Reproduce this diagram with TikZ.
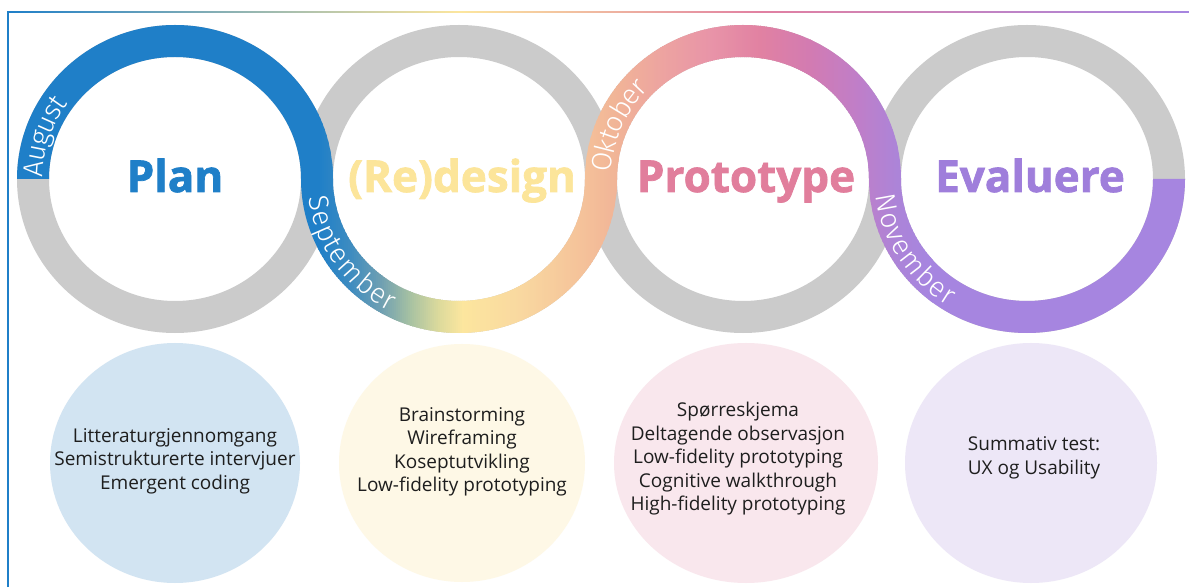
\documentclass[tikz,border=0pt]{standalone}
\usepackage{fontspec}
\setmainfont{Open Sans}
\newfontfamily\titlefont{Open Sans}[BoldFeatures={FakeBold=1.6}]
\newfontfamily\monthfont{Fira Sans Light}
\usetikzlibrary{decorations.text}

\definecolor{planblue}{HTML}{1F7FC8}
\definecolor{ringgray}{HTML}{CBCBCB}
\definecolor{designyellow}{HTML}{FCE59A}
\definecolor{protopink}{HTML}{E17E9C}
\definecolor{evalpurple}{HTML}{9F7EDB}
\definecolor{bandpurple}{HTML}{A685E0}
\definecolor{planfill}{HTML}{D2E4F2}
\definecolor{designfill}{HTML}{FEF8E6}
\definecolor{protofill}{HTML}{F9E7ED}
\definecolor{evalfill}{HTML}{EDE7F7}
\definecolor{bodytext}{HTML}{1E1E1E}
% gradient stops along the band
\definecolor{gA}{HTML}{1F7FC8}
\definecolor{gB}{HTML}{3E8CC0}
\definecolor{gC}{HTML}{6E9FB2}
\definecolor{gD}{HTML}{A8C2A2}
\definecolor{gE}{HTML}{DCDA9C}
\definecolor{gF}{HTML}{FCE69E}
\definecolor{gG}{HTML}{F9D8A0}
\definecolor{gH}{HTML}{F5C49A}
\definecolor{gI}{HTML}{F1B497}
\definecolor{gJ}{HTML}{EDA4A0}
\definecolor{gK}{HTML}{E894A8}
\definecolor{gL}{HTML}{E181A2}
\definecolor{gM}{HTML}{D27BB2}
\definecolor{gN}{HTML}{C07EC8}
\definecolor{gO}{HTML}{AC84D8}
\definecolor{gP}{HTML}{A685E0}

\newcommand\monthfmt{\color{white}\monthfont\fontsize{28}{28}\selectfont}

\tikzset{
  ring/.style={draw=ringgray, line width=32},
  phase/.style={font=\titlefont\fontsize{44}{44}\selectfont\bfseries, anchor=base, inner sep=0},
  activity/.style={font=\fontsize{19}{23.5}\selectfont, text=bodytext, align=center, inner sep=0},
  month/.style={decorate, decoration={text along path, text align=left, raise=-10pt, text={|\monthfmt|#1}}}
}

\begin{document}
\begin{tikzpicture}[x=1pt,y=1pt]
\useasboundingbox (0,0) rectangle (1189,587);
\fill[white] (0,0) rectangle (1189,587);

% frame: gradient rule on top, blue rule on the left
\shade[left color=gA, right color=gF] (8,574.2) rectangle (460,575.8);
\shade[left color=gF, right color=gL] (460,574.2) rectangle (760,575.8);
\shade[left color=gL, right color=gP] (760,574.2) rectangle (1189,575.8);
\draw[gA, line width=1.8] (8,0) -- (8,575.8);

% ring centres
\coordinate (c1) at (175,408);
\coordinate (c2) at (459,408);
\coordinate (c3) at (743,408);
\coordinate (c4) at (1027,408);

% grey rings
\foreach \c in {c1,c2,c3,c4}
  \draw[ring] (\c) ellipse [x radius=142, y radius=138];

% coloured S-band: upper halves of rings 1 and 3, lower halves of rings 2 and 4
\begin{scope}
\clip (c1) ++(-158,0) arc[start angle=180, end angle=0, x radius=158, y radius=154]
        -- ++(-32,0) arc[start angle=0, end angle=180, x radius=126, y radius=122] -- cycle
      (c2) ++(-158,0) arc[start angle=180, end angle=360, x radius=158, y radius=154]
        -- ++(-32,0) arc[start angle=360, end angle=180, x radius=126, y radius=122] -- cycle
      (c3) ++(-158,0) arc[start angle=180, end angle=0, x radius=158, y radius=154]
        -- ++(-32,0) arc[start angle=0, end angle=180, x radius=126, y radius=122] -- cycle
      (c4) ++(-158,0) arc[start angle=180, end angle=360, x radius=158, y radius=154]
        -- ++(-32,0) arc[start angle=360, end angle=180, x radius=126, y radius=122] -- cycle;
\fill[gA] (0,200) rectangle (319,600);
\fill[gP] (929,200) rectangle (1189,600);
\foreach \xa/\xb/\ca/\cb in {318/350/gA/gB, 350/380/gB/gC, 380/410/gC/gD, 410/438/gD/gE,
    438/462/gE/gF, 462/520/gF/gG, 520/576/gG/gH, 576/616/gH/gI, 616/660/gI/gJ,
    660/710/gJ/gK, 710/760/gK/gL, 760/810/gL/gM, 810/856/gM/gN, 856/896/gN/gO, 896/930/gO/gP}{
  \pgfmathtruncatemacro\n{(\xb-\xa)/2}
  \foreach \i in {0,...,\n}{
    \pgfmathsetmacro\xx{\xa+2*\i}
    \pgfmathtruncatemacro\p{100-100*\i/\n}
    \fill[\ca!\p!\cb] (\xx,200) rectangle ++(2.6,400);
  }
}
\end{scope}

% month labels along the band
\path[month=August] (c1) ++(179:142 and 138)
  arc[start angle=179, end angle=90, x radius=142, y radius=138];
\path[month=September] (c2) ++(187:142 and 138)
  arc[start angle=187, end angle=280, x radius=142, y radius=138];
\path[month=Oktober] (c3) ++(177:142 and 138)
  arc[start angle=177, end angle=90, x radius=142, y radius=138];
\path[month=November] (c4) ++(186:142 and 138)
  arc[start angle=186, end angle=280, x radius=142, y radius=138];

% phase titles
\node[phase, text=planblue]     (plan)   at (175,395) {Plan};
\node[phase, text=designyellow] (design) at (462,395) {(Re)design};
\node[phase, text=protopink]    (proto)  at (746,395) {Prototype};
\node[phase, text=evalpurple]   (eval)   at (1030,395) {Evaluere};

% activity bubbles
\fill[planfill]   (175,124) ellipse [x radius=125, y radius=120];
\fill[designfill] (462,124) ellipse [x radius=123, y radius=119];
\fill[protofill]  (746,124) ellipse [x radius=132, y radius=120];
\fill[evalfill]   (1031,124) ellipse [x radius=126, y radius=120];

\node[activity] (planact) at (175,126)
  {Litteraturgjennomgang\\Semistrukturerte intervjuer\\Emergent coding};
\node[activity] (designact) at (462,135)
  {Brainstorming\\Wireframing\\Koseptutvikling\\Low-fidelity prototyping};
\node[activity] (protoact) at (738,128)
  {Spørreskjema\\Deltagende observasjon\\Low-fidelity prototyping\\Cognitive walkthrough\\High-fidelity prototyping};
\node[activity] (evalact) at (1034,129)
  {Summativ test:\\UX og Usability};
\end{tikzpicture}
\end{document}
